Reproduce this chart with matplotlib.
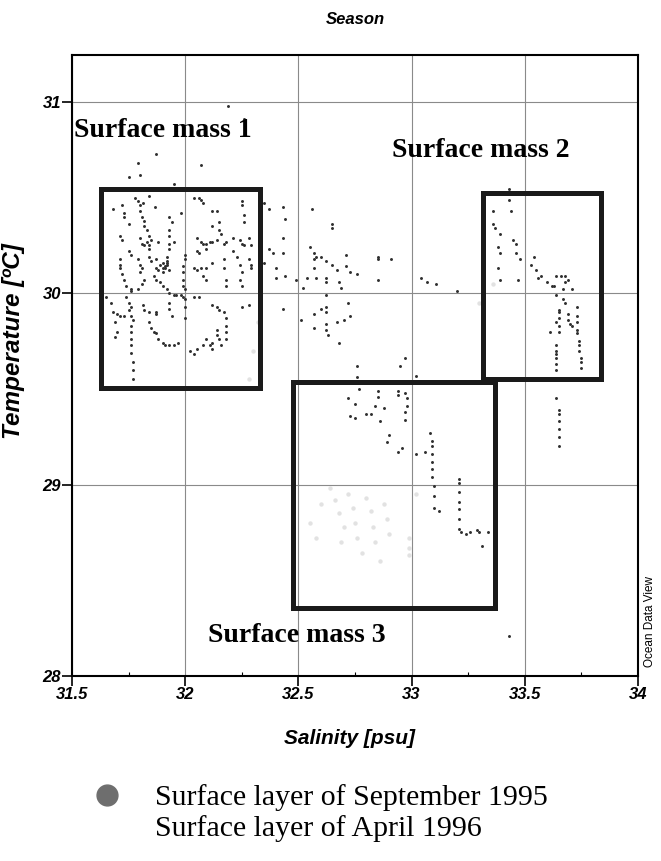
import matplotlib.pyplot as plt
import matplotlib.patches as patches
from matplotlib.lines import Line2D
import numpy as np

# salinity (psu), temperature (degC)
# September 1995, inside / around box 1
sept_box1 = [
    (31.72, 30.46), (31.73, 30.42), (31.73, 30.40),
    (31.78, 30.50), (31.79, 30.48), (31.80, 30.46), (31.80, 30.43), (31.81, 30.40),
    (31.82, 30.38), (31.82, 30.35), (31.83, 30.33), (31.815, 30.47), (31.867, 30.45),
    (31.84, 30.51), (31.71, 30.30), (31.72, 30.28), (31.75, 30.36), (31.68, 30.44),
    (31.80, 30.29), (31.81, 30.26), (31.82, 30.25), (31.83, 30.27), (31.84, 30.30),
    (31.85, 30.28), (31.84, 30.25), (31.84, 30.23), (31.88, 30.27),
    (31.93, 30.40), (31.94, 30.37), (31.93, 30.33), (31.93, 30.30), (31.93, 30.26),
    (31.93, 30.23), (31.92, 30.19), (31.92, 30.16), (31.90, 30.13),
    (31.98, 30.42), (31.95, 30.27),
    (32.04, 30.50), (32.06, 30.50), (32.07, 30.49), (32.08, 30.47),
    (32.12, 30.43), (32.14, 30.43), (32.15, 30.37), (32.15, 30.33), (32.16, 30.31),
    (32.12, 30.35),
    (32.05, 30.29), (32.07, 30.27), (32.08, 30.26), (32.09, 30.26), (32.11, 30.27),
    (32.12, 30.27), (32.14, 30.28), (32.17, 30.26), (32.18, 30.27), (32.21, 30.29),
    (32.25, 30.48), (32.25, 30.46), (32.26, 30.41), (32.26, 30.37),
    (32.24, 30.28), (32.25, 30.26), (32.26, 30.25), (32.28, 30.29), (32.29, 30.25),
    (32.05, 30.22), (32.06, 30.21), (32.09, 30.23),
    (32.00, 30.20), (32.00, 30.18), (31.99, 30.14), (31.99, 30.11), (31.99, 30.07),
    (31.99, 30.04), (32.00, 30.02), (32.00, 29.97), (32.00, 29.93), (32.00, 29.87),
    (31.71, 30.18), (31.71, 30.15), (31.71, 30.13), (31.75, 30.22), (31.76, 30.20),
    (31.79, 30.18), (31.80, 30.15), (31.81, 30.13), (31.80, 30.11),
    (31.84, 30.19), (31.85, 30.17), (31.87, 30.18), (31.89, 30.15), (31.90, 30.16),
    (31.92, 30.15), (31.91, 30.13), (31.90, 30.11), (31.88, 30.12), (31.87, 30.13),
    (31.86, 30.09), (31.87, 30.07), (31.89, 30.06), (31.90, 30.04), (31.92, 30.02),
    (31.93, 30.00), (31.95, 29.99), (31.96, 29.99), (31.98, 29.99), (31.99, 29.98),
    (31.91, 30.14), (31.92, 30.17), (31.93, 30.12),
    (31.82, 30.07), (31.81, 30.05), (31.79, 30.02), (31.76, 30.02),
    (31.72, 30.10), (31.73, 30.07), (31.74, 30.04), (31.76, 30.01),
    (32.04, 30.13), (32.05, 30.12), (32.07, 30.13), (32.09, 30.13), (32.08, 30.09),
    (32.09, 30.07), (32.12, 30.16), (32.17, 30.18), (32.17, 30.13), (32.18, 30.07),
    (32.18, 30.04), (32.24, 30.15), (32.25, 30.11), (32.24, 30.07), (32.25, 30.04),
    (32.28, 30.18), (32.29, 30.15), (32.29, 30.13), (32.21, 30.22), (32.23, 30.19),
    (31.65, 29.98), (31.67, 29.95), (31.68, 29.90), (31.70, 29.89), (31.71, 29.88),
    (31.73, 29.88), (31.74, 29.98), (31.75, 29.95), (31.76, 29.93), (31.75, 29.91),
    (31.76, 29.88), (31.77, 29.86), (31.76, 29.83), (31.76, 29.80), (31.76, 29.76),
    (31.76, 29.73), (31.76, 29.69), (31.77, 29.64), (31.77, 29.60), (31.77, 29.55),
    (31.69, 29.85), (31.70, 29.80), (31.69, 29.77),
    (31.815, 29.94), (31.82, 29.91), (31.84, 29.90), (31.87, 29.89), (31.87, 29.90),
    (31.84, 29.85), (31.85, 29.82), (31.86, 29.80), (31.87, 29.79), (31.88, 29.76),
    (31.90, 29.74), (31.91, 29.73), (31.93, 29.73), (31.95, 29.73), (31.97, 29.74),
    (31.93, 29.95), (31.93, 29.92), (31.94, 29.88), (32.04, 29.98), (32.06, 29.98),
    (32.12, 29.94), (32.14, 29.93), (32.15, 29.91), (32.17, 29.90),
    (32.25, 29.93), (32.28, 29.94), (32.18, 29.87), (32.18, 29.83), (32.18, 29.80),
    (32.18, 29.76), (32.14, 29.81), (32.14, 29.78), (32.12, 29.74), (32.11, 29.73),
    (32.12, 29.71), (32.09, 29.76), (32.08, 29.73), (32.05, 29.71), (32.04, 29.68),
    (32.02, 29.70), (32.15, 29.76), (32.16, 29.73),
    (32.19, 30.98), (32.26, 30.91), (31.87, 30.73), (31.79, 30.68), (32.07, 30.67),
    (31.75, 30.61), (31.80, 30.62), (31.95, 30.57),
]

# September 1995, middle of the plot
sept_mid = [
    (32.35, 30.47), (32.37, 30.44), (32.43, 30.45), (32.44, 30.39), (32.56, 30.44),
    (32.65, 30.36), (32.65, 30.34), (32.43, 30.29), (32.37, 30.23), (32.39, 30.21),
    (32.43, 30.21), (32.35, 30.16), (32.40, 30.13), (32.40, 30.08), (32.44, 30.09),
    (32.49, 30.07), (32.52, 30.03), (32.55, 30.24), (32.57, 30.21), (32.58, 30.19),
    (32.57, 30.18), (32.60, 30.19), (32.62, 30.17), (32.65, 30.15), (32.57, 30.13),
    (32.67, 30.12), (32.71, 30.20), (32.71, 30.14), (32.73, 30.11), (32.76, 30.10),
    (32.54, 30.08), (32.58, 30.08), (32.62, 30.08), (32.62, 30.06), (32.68, 30.06),
    (32.69, 30.03), (32.85, 30.19), (32.85, 30.18), (32.91, 30.18), (32.85, 30.07),
    (33.04, 30.08), (33.07, 30.06), (33.11, 30.05), (33.20, 30.01),
    (32.43, 29.92), (32.62, 29.99), (32.62, 29.93), (32.62, 29.90), (32.60, 29.92),
    (32.57, 29.89), (32.51, 29.86), (32.57, 29.82), (32.62, 29.84), (32.62, 29.81),
    (32.63, 29.78), (32.67, 29.85), (32.70, 29.86), (32.72, 29.95), (32.73, 29.88),
    (32.68, 29.74), (32.97, 29.66), (32.95, 29.62), (32.76, 29.62), (32.76, 29.56),
    (33.02, 29.57),
]

# September 1995, box 3 area
sept_box3 = [
    (32.77, 29.50), (32.72, 29.45), (32.75, 29.42), (32.85, 29.49), (32.85, 29.46),
    (32.84, 29.41), (32.94, 29.49), (32.94, 29.47), (32.97, 29.48), (32.98, 29.45),
    (32.98, 29.41), (32.97, 29.38), (32.97, 29.34), (32.88, 29.40), (32.73, 29.36),
    (32.75, 29.35), (32.80, 29.37), (32.82, 29.37), (32.86, 29.33), (32.90, 29.26),
    (32.89, 29.22), (32.96, 29.19), (32.94, 29.17), (33.02, 29.16), (33.06, 29.17),
    (33.08, 29.27), (33.09, 29.23), (33.09, 29.20), (33.09, 29.16), (33.09, 29.12),
    (33.09, 29.08), (33.09, 29.04), (33.10, 28.99), (33.10, 28.94), (33.10, 28.88),
    (33.12, 28.86),
    (33.21, 29.03), (33.21, 29.01), (33.21, 28.96), (33.21, 28.91), (33.21, 28.87),
    (33.21, 28.82), (33.21, 28.77), (33.22, 28.75), (33.24, 28.74), (33.26, 28.75),
    (33.29, 28.76), (33.30, 28.75), (33.34, 28.75), (33.31, 28.68),
    (33.43, 28.21),
]

# September 1995, box 2 area
sept_box2 = [
    (33.43, 30.545), (33.43, 30.49), (33.36, 30.43), (33.44, 30.43), (33.36, 30.36),
    (33.37, 30.34), (33.39, 30.31), (33.45, 30.28), (33.46, 30.26), (33.38, 30.24),
    (33.39, 30.21), (33.46, 30.21), (33.48, 30.18), (33.54, 30.19), (33.53, 30.15),
    (33.55, 30.12), (33.38, 30.13), (33.39, 30.07), (33.47, 30.07), (33.56, 30.08),
    (33.57, 30.09), (33.60, 30.06), (33.62, 30.04), (33.64, 30.09), (33.66, 30.09),
    (33.68, 30.09), (33.69, 30.07), (33.68, 30.06), (33.63, 30.04), (33.67, 30.02),
    (33.71, 30.02), (33.64, 29.99), (33.67, 29.97), (33.68, 29.95), (33.65, 29.91),
    (33.65, 29.90), (33.65, 29.87), (33.64, 29.85), (33.65, 29.83), (33.61, 29.80),
    (33.65, 29.80), (33.69, 29.89), (33.69, 29.86), (33.70, 29.84), (33.71, 29.83),
    (33.73, 29.93), (33.73, 29.88), (33.73, 29.85), (33.73, 29.81), (33.73, 29.79),
    (33.74, 29.75), (33.74, 29.73), (33.74, 29.70), (33.75, 29.66), (33.75, 29.64),
    (33.75, 29.61), (33.64, 29.73), (33.64, 29.70), (33.64, 29.68), (33.64, 29.66),
    (33.64, 29.63), (33.64, 29.60),
    (33.64, 29.45), (33.65, 29.39), (33.65, 29.37), (33.65, 29.33), (33.65, 29.29),
    (33.65, 29.25), (33.65, 29.20),
]

# April 1996 (very faint in the scan)
april = [
    (32.64, 28.98), (32.66, 28.92), (32.68, 28.85), (32.70, 28.78), (32.69, 28.70),
    (32.72, 28.95), (32.74, 28.88), (32.75, 28.80), (32.76, 28.72), (32.78, 28.64),
    (32.80, 28.93), (32.82, 28.86), (32.83, 28.78), (32.84, 28.70), (32.86, 28.60),
    (32.88, 28.90), (32.89, 28.82), (32.90, 28.74), (32.99, 28.72), (32.99, 28.67),
    (32.99, 28.63), (32.55, 28.80), (32.58, 28.72), (32.60, 28.90), (33.02, 28.95),
    (32.28, 29.55), (32.30, 29.70), (32.32, 29.85), (33.36, 30.05), (33.30, 29.95),
]

box_rects = [(31.63, 29.505, 32.33, 30.547),
             (33.315, 29.552, 33.837, 30.526),
             (32.476, 28.354, 33.368, 29.536)]
box_labels = ['Surface mass 1', 'Surface mass 2', 'Surface mass 3']
label_pos = [(31.51, 30.85), (32.913, 30.745), (32.10, 28.21)]

x_ticks = [31.5, 32, 32.5, 33, 33.5, 34]
x_ticklabels = ['31.5', '32', '32.5', '33', '33.5', '34']
y_ticks = [28, 29, 30, 31]

legend_labels = ['Surface layer of September 1995', 'Surface layer of April 1996']

fig = plt.figure(figsize=(6.61, 8.61), dpi=100)
ax = fig.add_axes([0.109, 0.215, 0.856, 0.721])

ap = np.array(april).T
ax.scatter(ap[0], ap[1], s=10, color='#e2e2e2', linewidths=0, zorder=2)
for grp in [sept_box1, sept_mid, sept_box3, sept_box2]:
    g = np.array(grp).T
    ax.scatter(g[0], g[1], s=4.5, color='#2e2e2e', linewidths=0, zorder=3)

for (x0, y0, x1, y1) in box_rects:
    ax.add_patch(patches.Rectangle((x0, y0), x1 - x0, y1 - y0, fill=False,
                                   lw=3.6, edgecolor='#1a1a1a', zorder=4))
for lab, (lx, ly) in zip(box_labels, label_pos):
    ax.text(lx, ly, lab, family='Liberation Serif', fontweight='bold',
            fontsize=20, va='center', ha='left', zorder=5)

ax.set_xlim(31.5, 34)
ax.set_ylim(28, 31.245)
ax.set_xticks(x_ticks)
ax.set_xticklabels(x_ticklabels)
ax.set_yticks(y_ticks)
ax.set_xticks(np.arange(31.5, 34.01, 0.25), minor=True)
ax.grid(True, which='major', color='#8a8a8a', lw=0.8, zorder=1)
ax.tick_params(which='major', direction='out', length=7, width=1.2, pad=1)
ax.tick_params(which='minor', direction='in', length=3, width=0.8)
for lbl in ax.get_xticklabels() + ax.get_yticklabels():
    lbl.set_family('Liberation Sans')
    lbl.set_fontstyle('italic')
    lbl.set_fontweight('bold')
    lbl.set_fontsize(12)
for sp in ax.spines.values():
    sp.set_linewidth(1.5)

ax.set_xlabel('Salinity [psu]', family='Liberation Sans', style='italic',
              fontweight='bold', fontsize=15)
ax.xaxis.set_label_coords(0.491, -0.085)
ax.set_ylabel('Temperature [ºC]', family='Liberation Sans', style='italic',
              fontweight='bold', fontsize=17.5)
ax.yaxis.set_label_coords(-0.083, 0.54)
fig.text(0.537, 0.977, 'Season', family='Liberation Sans', style='italic',
         fontweight='bold', fontsize=12, ha='center', va='center')
fig.text(0.983, 0.278, 'Ocean Data View', family='Liberation Sans',
         fontsize=8.5, rotation=90, ha='center', va='center')

handles = [Line2D([], [], marker='o', ls='', color='#6e6e6e', ms=15),
           Line2D([], [], marker='o', ls='', color='white', ms=15)]
fig.legend(handles, legend_labels,
           loc='upper left', bbox_to_anchor=(92 / 661, 1 - 784 / 861), frameon=False,
           prop={'family': 'Liberation Serif', 'size': 21.5},
           handlelength=1.0, handletextpad=1.1, labelspacing=0.12,
           borderaxespad=0, borderpad=0)

fig.savefig('out.png', dpi=100)
